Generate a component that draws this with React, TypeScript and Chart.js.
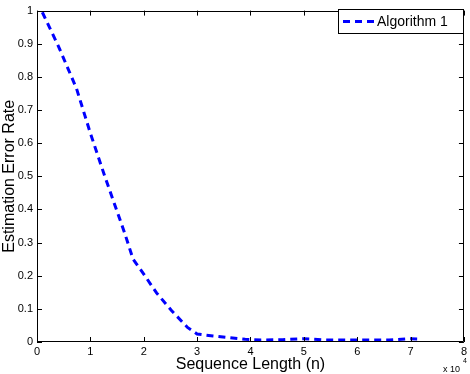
import React, { useEffect, useRef } from "react";
import { Chart, registerables } from "chart.js";

Chart.register(...registerables);

const xValues = [0.1, 0.4, 0.74, 1.0, 1.27, 1.64, 1.8, 2.0, 2.24, 2.52, 2.82, 3.0, 3.3, 3.6, 3.9, 4.2, 4.6, 5.0, 5.4, 5.8, 6.2, 6.6, 7.0, 7.2];
const yValues = [0.995, 0.893, 0.765, 0.63, 0.5, 0.33, 0.25, 0.205, 0.148, 0.095, 0.044, 0.024, 0.018, 0.013, 0.008, 0.006, 0.007, 0.01, 0.006, 0.006, 0.006, 0.006, 0.01, 0.009];
const seriesLabel = "Algorithm 1";
const xTitle = "Sequence Length (n)";
const yTitle = "Estimation Error Rate";
const xExponentBase = "x 10";
const xExponent = "4";

const FONT = '"Liberation Sans", Arial, Helvetica, sans-serif';

const boxPlugin = {
  id: "matlabBox",
  afterDatasetsDraw(chart: any) {
    const { ctx, chartArea: a, scales } = chart;
    ctx.save();
    ctx.strokeStyle = "#000";
    ctx.lineWidth = 1;
    ctx.beginPath();
    ctx.rect(Math.round(a.left) + 0.5, Math.round(a.top) + 0.5, Math.round(a.right - a.left) - 1, Math.round(a.bottom - a.top) - 1);
    ctx.stroke();
    const tl = 5;
    ctx.beginPath();
    scales.x.ticks.forEach((t: any) => {
      const px = Math.round(scales.x.getPixelForValue(t.value)) + 0.5;
      ctx.moveTo(px, a.bottom);
      ctx.lineTo(px, a.bottom - tl);
      ctx.moveTo(px, a.top);
      ctx.lineTo(px, a.top + tl);
    });
    scales.y.ticks.forEach((t: any) => {
      const py = Math.round(scales.y.getPixelForValue(t.value)) + 0.5;
      ctx.moveTo(a.left, py);
      ctx.lineTo(a.left + tl, py);
      ctx.moveTo(a.right, py);
      ctx.lineTo(a.right - tl, py);
    });
    ctx.stroke();
    ctx.restore();
  },
  afterDraw(chart: any) {
    const { ctx } = chart;
    ctx.save();
    const lx = 338, ly = 9, lw = 125, lh = 24;
    ctx.fillStyle = "#fff";
    ctx.fillRect(lx, ly, lw, lh);
    ctx.strokeStyle = "#000";
    ctx.lineWidth = 1;
    ctx.strokeRect(lx + 0.5, ly + 0.5, lw, lh);
    ctx.strokeStyle = "#0000ff";
    ctx.lineWidth = 3;
    ctx.setLineDash([7, 5]);
    ctx.beginPath();
    ctx.moveTo(343, ly + lh / 2 + 0.5);
    ctx.lineTo(374, ly + lh / 2 + 0.5);
    ctx.stroke();
    ctx.setLineDash([]);
    ctx.fillStyle = "#000";
    ctx.font = `14px ${FONT}`;
    ctx.textBaseline = "middle";
    ctx.textAlign = "left";
    ctx.fillText(seriesLabel, 377, ly + lh / 2 + 1);
    ctx.textBaseline = "alphabetic";
    ctx.font = `9px ${FONT}`;
    ctx.fillText(xExponentBase, 443, 372);
    ctx.font = `7px ${FONT}`;
    ctx.fillText(xExponent, 463, 363);
    ctx.restore();
  },
};

export default function App() {
  const ref = useRef<HTMLCanvasElement>(null);
  useEffect(() => {
    document.body.style.margin = "0";
    const data = xValues.map((x, i) => ({ x, y: yValues[i] }));
    const chart = new Chart(ref.current as HTMLCanvasElement, {
      type: "line",
      data: {
        datasets: [
          {
            label: seriesLabel,
            data,
            borderColor: "#0000ff",
            borderWidth: 3,
            borderDash: [7, 5],
            pointRadius: 0,
            fill: false,
            tension: 0,
          },
        ],
      },
      options: {
        responsive: false,
        animation: false,
        layout: { padding: { top: 4, right: 4, left: 0, bottom: 0 } },
        plugins: { legend: { display: false }, tooltip: { enabled: false } },
        scales: {
          x: {
            type: "linear",
            min: 0,
            max: 8,
            ticks: { stepSize: 1, color: "#000", font: { family: FONT, size: 11 }, padding: 3, maxRotation: 0 },
            grid: { display: false, drawTicks: false },
            border: { display: false },
            title: { display: true, text: xTitle, color: "#000", font: { family: FONT, size: 16, lineHeight: 1.2 }, padding: 0 },
            afterFit(s: any) {
              s.height = 32;
            },
          },
          y: {
            type: "linear",
            min: 0,
            max: 1,
            ticks: {
              stepSize: 0.1,
              color: "#000",
              font: { family: FONT, size: 11 },
              padding: 4,
              callback: (v: any) => String(+Number(v).toFixed(2)),
            },
            grid: { display: false, drawTicks: false },
            border: { display: false },
            title: { display: true, text: yTitle, color: "#000", font: { family: FONT, size: 16, lineHeight: 1.2 }, padding: 0 },
            afterFit(s: any) {
              s.width = 37;
            },
          },
        },
      },
      plugins: [boxPlugin],
    });
    return () => chart.destroy();
  }, []);
  return (
    <div style={{ position: "fixed", left: 0, top: 0, width: 470, height: 374, background: "#fff" }}>
      <canvas ref={ref} width={470} height={374} />
    </div>
  );
}
